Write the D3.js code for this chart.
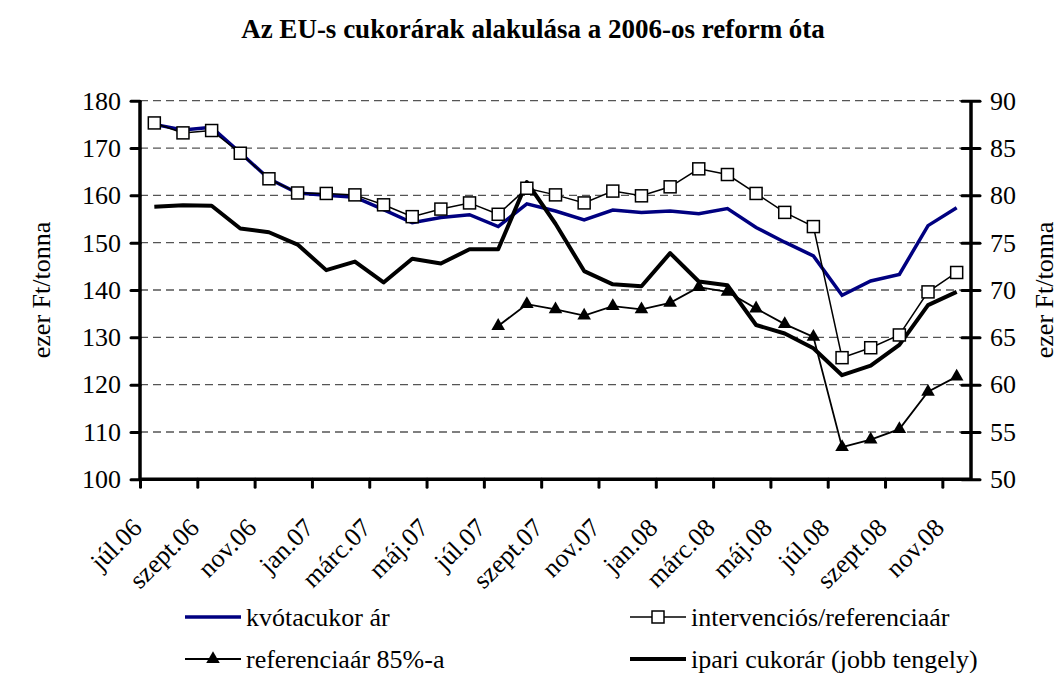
<!DOCTYPE html>
<html>
<head>
<meta charset="utf-8">
<style>
  body { margin: 0; background: #fff; }
  svg { display: block; }
  svg text { font-family: "Liberation Serif", "Times New Roman", serif; }
</style>
</head>
<body>
<svg width="1061" height="673"></svg>
<script src="https://cdnjs.cloudflare.com/ajax/libs/d3/7.8.5/d3.min.js"></script>
<script>
  // months jul 2006 - nov 2008, one category each
  const months = ["júl.06","aug.06","szept.06","okt.06","nov.06","dec.06",
    "jan.07","febr.07","márc.07","ápr.07","máj.07","jún.07","júl.07","aug.07","szept.07","okt.07","nov.07","dec.07",
    "jan.08","febr.08","márc.08","ápr.08","máj.08","jún.08","júl.08","aug.08","szept.08","okt.08","nov.08"]

  // left axis (ezer Ft/tonna)
  const kvota = [175.0, 173.8, 174.4, 169.0, 163.5, 160.5, 160.0, 159.6, 157.0, 154.2,
    155.3, 155.9, 153.4, 158.2, 156.7, 154.8, 156.9, 156.4, 156.7, 156.1,
    157.2, 153.2, 150.1, 147.2, 138.9, 141.9, 143.3, 153.6, 157.4]
  const interv = [175.3, 173.2, 173.7, 168.9, 163.5, 160.5, 160.4, 160.1, 158.0, 155.5,
    157.1, 158.4, 156.0, 161.5, 160.1, 158.4, 160.9, 159.9, 161.8, 165.6,
    164.4, 160.4, 156.4, 153.4, 125.7, 127.8, 130.5, 139.6, 143.7]
  const ref85 = [null, null, null, null, null, null, null, null, null, null,
    null, null, 132.4, 137.0, 135.9, 134.6, 136.6, 135.9, 137.3, 140.6,
    139.6, 136.1, 132.8, 130.1, 106.8, 108.4, 110.6, 118.5, 121.7]
  // right axis
  const ipari = [78.8, 78.95, 78.9, 76.5, 76.1, 74.8, 72.1, 73.0, 70.8, 73.3,
    72.8, 74.3, 74.3, 81.4, 77.0, 72.0, 70.6, 70.4, 73.9, 70.9,
    70.5, 66.3, 65.4, 63.85, 61.0, 62.0, 64.2, 68.4, 69.8]

  const leftTicks = d3.range(100, 181, 10)
  const rightTicks = d3.range(50, 91, 5)

  const svg = d3.select("svg")
  const pLeft = 140, pRight = 971, pTop = 100.7, pBottom = 479.3
  const fs = 26

  const x = d3.scaleLinear().domain([0, months.length]).range([pLeft, pRight])
  const yL = d3.scaleLinear().domain([100, 180]).range([pBottom, pTop])
  const yR = d3.scaleLinear().domain([50, 90]).range([pBottom, pTop])
  const cx = i => x(i + 0.5)

  svg.append("text")
    .attr("x", 533).attr("y", 38)
    .attr("text-anchor", "middle")
    .attr("font-size", 27).attr("font-weight", "bold")
    .text("Az EU-s cukorárak alakulása a 2006-os reform óta")

  // grid
  svg.append("g").selectAll("line")
    .data(leftTicks.filter(d => d > 100))
    .join("line")
      .attr("x1", pLeft).attr("x2", pRight)
      .attr("y1", d => yL(d)).attr("y2", d => yL(d))
      .attr("stroke", "#555").attr("stroke-width", 1.3)
      .attr("stroke-dasharray", "8,5")

  // lines
  const line = (yScale) => d3.line()
    .defined(d => d != null)
    .x((d, i) => cx(i))
    .y(d => yScale(d))

  svg.append("path").datum(kvota)
    .attr("d", line(yL))
    .attr("fill", "none").attr("stroke", "#000080").attr("stroke-width", 3.5)

  svg.append("path").datum(ipari)
    .attr("d", line(yR))
    .attr("fill", "none").attr("stroke", "#000").attr("stroke-width", 4)
    .attr("stroke-linejoin", "round")

  svg.append("path").datum(ref85)
    .attr("d", line(yL))
    .attr("fill", "none").attr("stroke", "#000").attr("stroke-width", 1.8)

  svg.append("path").datum(interv)
    .attr("d", line(yL))
    .attr("fill", "none").attr("stroke", "#000").attr("stroke-width", 1.5)

  const tri = d3.symbol().type(d3.symbolTriangle).size(80)
  svg.append("g").selectAll("path")
    .data(ref85.map((v, i) => [v, i]).filter(d => d[0] != null))
    .join("path")
      .attr("d", tri)
      .attr("transform", d => `translate(${cx(d[1])},${yL(d[0])})`)
      .attr("fill", "#000")

  svg.append("g").selectAll("rect")
    .data(interv)
    .join("rect")
      .attr("x", (d, i) => cx(i) - 6).attr("y", d => yL(d) - 6)
      .attr("width", 12).attr("height", 12)
      .attr("fill", "#fff").attr("stroke", "#000").attr("stroke-width", 1.5)

  // axes
  const gL = svg.append("g").attr("transform", `translate(${pLeft},0)`)
    .call(d3.axisLeft(yL).tickValues(leftTicks).tickSize(9).tickPadding(10))
  const gR = svg.append("g").attr("transform", `translate(${pRight},0)`)
    .call(d3.axisRight(yR).tickValues(rightTicks).tickSize(9).tickPadding(10))
  gR.selectAll(".tick line").attr("x1", -9)
  const gB = svg.append("g").attr("transform", `translate(0,${pBottom})`)
    .call(d3.axisBottom(x).tickValues(d3.range(0, months.length, 2)).tickSize(8).tickFormat(""))

  for (const g of [gL, gR, gB]) {
    g.attr("font-family", null)
    g.select(".domain").attr("stroke", "#000").attr("stroke-width", 3.5)
    g.selectAll(".tick line").attr("stroke", "#000").attr("stroke-width", 3).attr("stroke-linecap", "round")
    g.selectAll(".tick text").attr("font-size", fs).attr("fill", "#000")
  }
  gB.select(".domain").attr("d", `M${pLeft},0H${pRight}`)
  gL.select(".domain").attr("d", `M0,${pTop}V${pBottom}`)
  gR.select(".domain").attr("d", `M0,${pTop}V${pBottom}`)

  // month labels
  svg.append("g").selectAll("text")
    .data(months.map((m, i) => [m, i]).filter(d => d[1] % 2 === 0))
    .join("text")
      .attr("transform", d => `translate(${cx(d[1]) - 11},${pBottom + 50}) rotate(-45)`)
      .attr("text-anchor", "end")
      .attr("font-size", fs)
      .text(d => d[0])

  // axis titles
  svg.append("text")
    .attr("transform", `translate(50,290) rotate(-90)`)
    .attr("text-anchor", "middle").attr("font-size", fs)
    .text("ezer Ft/tonna")
  svg.append("text")
    .attr("transform", `translate(1053,290) rotate(-90)`)
    .attr("text-anchor", "middle").attr("font-size", fs)
    .text("ezer Ft/tonna")

  // legend
  const legend = [
    { label: "kvótacukor ár", x: 185, y: 617, color: "#000080", w: 3.5, mark: null },
    { label: "intervenciós/referenciaár", x: 630, y: 617, color: "#000", w: 1.5, mark: "square" },
    { label: "referenciaár 85%-a", x: 185, y: 659, color: "#000", w: 1.8, mark: "tri" },
    { label: "ipari cukorár (jobb tengely)", x: 630, y: 659, color: "#000", w: 4, mark: null }
  ]
  const lg = svg.append("g").selectAll("g").data(legend).join("g")
    .attr("transform", d => `translate(${d.x},${d.y})`)
  lg.append("line")
    .attr("x1", 0).attr("x2", 56)
    .attr("stroke", d => d.color).attr("stroke-width", d => d.w)
  lg.filter(d => d.mark === "square").append("rect")
    .attr("x", 22).attr("y", -6).attr("width", 12).attr("height", 12)
    .attr("fill", "#fff").attr("stroke", "#000").attr("stroke-width", 1.5)
  lg.filter(d => d.mark === "tri").append("path")
    .attr("d", tri).attr("transform", "translate(28,0)").attr("fill", "#000")
  lg.append("text")
    .attr("x", 61).attr("y", 9)
    .attr("font-size", fs)
    .text(d => d.label)
</script>
</body>
</html>
